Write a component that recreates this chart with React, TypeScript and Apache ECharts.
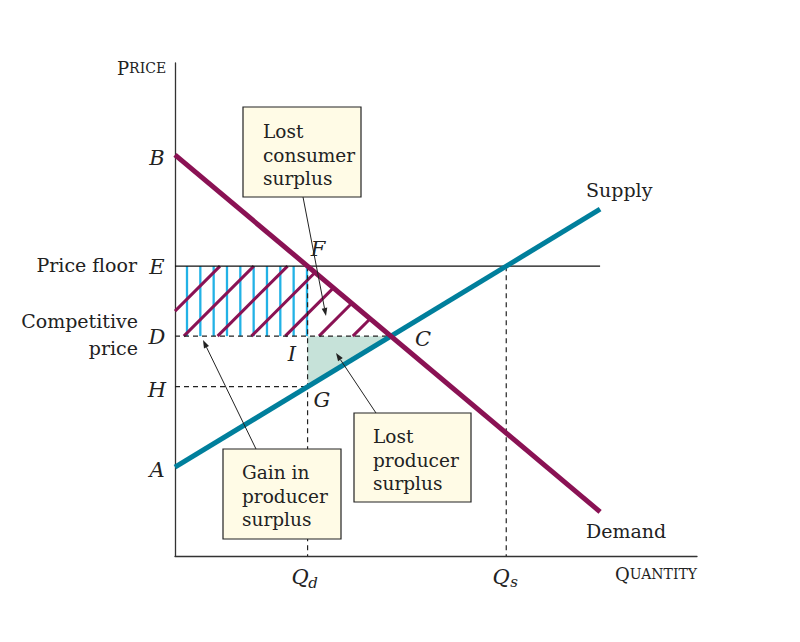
import React, { useEffect, useRef } from "react";
import * as echarts from "echarts";

// ---- data ----
const xMax = 122.8;
const yMax = 116;
const demandPts: [number, number][] = [[0, 94.4], [100, 10.4]];
const supplyPts: [number, number][] = [[0, 20.9], [100, 81.6]];
const priceFloor = 68.2;

// helpers deriving intersections from the drawn lines
const lineY = (l: [number, number][], x: number) =>
  l[0][1] + ((l[1][1] - l[0][1]) * (x - l[0][0])) / (l[1][0] - l[0][0]);
const lineX = (l: [number, number][], y: number) =>
  l[0][0] + ((l[1][0] - l[0][0]) * (y - l[0][1])) / (l[1][1] - l[0][1]);
const dSlope = (demandPts[1][1] - demandPts[0][1]) / (demandPts[1][0] - demandPts[0][0]);
const sSlope = (supplyPts[1][1] - supplyPts[0][1]) / (supplyPts[1][0] - supplyPts[0][0]);
const qC = (supplyPts[0][1] - demandPts[0][1]) / (dSlope - sSlope);
const pC = lineY(demandPts, qC);
const qD = lineX(demandPts, priceFloor);
const qS = lineX(supplyPts, priceFloor);
const pH = lineY(supplyPts, qD);

const MAGENTA = "#8a1254";
const TEAL = "#007f9c";
const CYAN = "#22b2e6";
const GREEN = "#c6e2d9";
const BOX = "#fffbe6";
const SERIF = "DejaVu Serif";

type P = [number, number];
function clipLine(p: P, d: P, poly: P[]): [P, P] | null {
  const cx = poly.reduce((s, q) => s + q[0], 0) / poly.length;
  const cy = poly.reduce((s, q) => s + q[1], 0) / poly.length;
  let tmin = -1e9, tmax = 1e9;
  for (let i = 0; i < poly.length; i++) {
    const a = poly[i], b = poly[(i + 1) % poly.length];
    let n: P = [-(b[1] - a[1]), b[0] - a[0]];
    if (n[0] * (cx - a[0]) + n[1] * (cy - a[1]) < 0) n = [-n[0], -n[1]];
    const num = n[0] * (p[0] - a[0]) + n[1] * (p[1] - a[1]);
    const den = n[0] * d[0] + n[1] * d[1];
    if (Math.abs(den) < 1e-9) {
      if (num < 0) return null;
    } else {
      const t = -num / den;
      if (den > 0) tmin = Math.max(tmin, t);
      else tmax = Math.min(tmax, t);
    }
  }
  if (tmin >= tmax) return null;
  return [
    [p[0] + tmin * d[0], p[1] + tmin * d[1]],
    [p[0] + tmax * d[0], p[1] + tmax * d[1]],
  ];
}

function arrow(x1: number, y1: number, x2: number, y2: number) {
  const dx = x2 - x1, dy = y2 - y1;
  const len = Math.hypot(dx, dy);
  const ux = dx / len, uy = dy / len;
  const hl = 8, hw = 2.8;
  const bx = x2 - ux * hl, by = y2 - uy * hl;
  return [
    { type: "line", z: 20, shape: { x1, y1, x2: bx, y2: by }, style: { stroke: "#222", lineWidth: 1 } },
    {
      type: "polygon", z: 20,
      shape: { points: [[x2, y2], [bx - uy * hw, by + ux * hw], [bx + uy * hw, by - ux * hw]] },
      style: { fill: "#222" },
    },
  ];
}

function txt(x: number, y: number, text: string, opts: any = {}) {
  return {
    type: "text", z: 30, x, y,
    style: {
      text, fill: "#222", font: `${opts.italic ? "italic " : ""}${opts.size || 19}px "${SERIF}"`,
      textAlign: opts.align || "center", textVerticalAlign: "middle",
    },
  };
}

function box(x: number, y: number, w: number, h: number, lines: string[], tx: number, ty: number[]) {
  const els: any[] = [
    { type: "rect", z: 25, shape: { x, y, width: w, height: h }, style: { fill: BOX, stroke: "#222", lineWidth: 1.2 } },
  ];
  lines.forEach((l, i) => els.push(txt(tx, ty[i], l, { align: "left", size: 18.5 })));
  return els;
}

const dashed = (pts: P[]) => ({
  type: "line", data: pts, symbol: "none", z: 4, silent: true,
  lineStyle: { color: "#222", width: 1.2, type: [5, 4] },
});

export default function App() {
  const ref = useRef<HTMLDivElement>(null);
  useEffect(() => {
    const chart = echarts.init(ref.current!, null, { renderer: "svg" });
    const option: any = {
      animation: false,
      grid: { left: 175, top: 63, width: 522, height: 493, outerBoundsMode: "none" },
      xAxis: {
        type: "value", min: 0, max: xMax,
        axisLine: { show: true, onZero: false, lineStyle: { color: "#333", width: 1.3 } },
        axisTick: { show: false }, axisLabel: { show: false }, splitLine: { show: false },
      },
      yAxis: {
        type: "value", min: 0, max: yMax,
        axisLine: { show: true, onZero: false, lineStyle: { color: "#333", width: 1.3 } },
        axisTick: { show: false }, axisLabel: { show: false }, splitLine: { show: false },
      },
      series: [
        {
          type: "custom", z: 1, silent: true, data: [[0, 0]],
          renderItem: (_p: any, api: any) => {
            const pts = [[qD, pC], [qC, pC], [qD, pH]].map((q) => api.coord(q));
            return { type: "polygon", shape: { points: pts }, style: { fill: GREEN } };
          },
        },
        {
          type: "custom", z: 2, silent: true, data: [[0, 0]],
          renderItem: (_p: any, api: any) => {
            const E = api.coord([0, priceFloor]) as P;
            const F = api.coord([qD, priceFloor]) as P;
            const C = api.coord([qC, pC]) as P;
            const D = api.coord([0, pC]) as P;
            const I = api.coord([qD, pC]) as P;
            const children: any[] = [];
            const rect: P[] = [E, F, I, D];
            for (let x = E[0] + 12; x <= F[0] + 0.6; x += 13.33) {
              const seg = clipLine([x, 0], [0, 1], rect);
              if (seg) children.push({
                type: "line", shape: { x1: seg[0][0], y1: seg[0][1], x2: seg[1][0], y2: seg[1][1] },
                style: { stroke: CYAN, lineWidth: 2.3 },
              });
            }
            const trap: P[] = [E, F, C, D];
            for (let c = D[0] + D[1] - 25; c < C[0] + C[1] + 40; c += 33.8) {
              const seg = clipLine([c, 0], [1, -1], trap);
              if (seg) children.push({
                type: "line", shape: { x1: seg[0][0], y1: seg[0][1], x2: seg[1][0], y2: seg[1][1] },
                style: { stroke: MAGENTA, lineWidth: 3 },
              });
            }
            return { type: "group", children };
          },
        },
        dashed([[0, pC], [qC, pC]]),
        dashed([[0, pH], [qD, pH]]),
        dashed([[qD, priceFloor], [qD, 0]]),
        dashed([[qS, priceFloor], [qS, 0]]),
        {
          type: "line", data: [[0, priceFloor], [100, priceFloor]], symbol: "none", z: 5, silent: true,
          lineStyle: { color: "#111", width: 1.2 },
        },
        {
          type: "line", data: supplyPts, symbol: "none", z: 6, silent: true,
          lineStyle: { color: TEAL, width: 5, cap: "butt" },
        },
        {
          type: "line", data: demandPts, symbol: "none", z: 7, silent: true,
          lineStyle: { color: MAGENTA, width: 5, cap: "butt" },
        },
      ],
      graphic: [
        {
          type: "text", z: 30, x: 117, y: 68,
          style: {
            text: "{a|P}{b|RICE}", fill: "#222", textVerticalAlign: "middle",
            rich: { a: { fontSize: 18, fontFamily: SERIF, fill: "#222" }, b: { fontSize: 14, fontFamily: SERIF, fill: "#222" } },
          },
        },
        {
          type: "text", z: 30, x: 697, y: 574,
          style: {
            text: "{a|Q}{b|UANTITY}", fill: "#222", textAlign: "right", textVerticalAlign: "middle",
            rich: { a: { fontSize: 18, fontFamily: SERIF, fill: "#222" }, b: { fontSize: 14, fontFamily: SERIF, fill: "#222" } },
          },
        },
        txt(157, 158, "B", { italic: true, size: 21 }),
        txt(157, 267, "E", { italic: true, size: 21 }),
        txt(157, 337, "D", { italic: true, size: 21 }),
        txt(157, 390, "H", { italic: true, size: 21 }),
        txt(157, 470, "A", { italic: true, size: 21 }),
        txt(318, 249, "F", { italic: true, size: 21 }),
        txt(292, 354, "I", { italic: true, size: 21 }),
        txt(322, 400, "G", { italic: true, size: 21 }),
        txt(423, 339, "C", { italic: true, size: 21 }),
        txt(300, 577, "Q", { italic: true, size: 21 }),
        txt(313, 583, "d", { italic: true, size: 15 }),
        txt(501, 577, "Q", { italic: true, size: 21 }),
        txt(514, 582, "s", { italic: true, size: 15 }),
        txt(137, 265, "Price floor", { align: "right" }),
        txt(138, 321, "Competitive", { align: "right" }),
        txt(138, 348, "price", { align: "right" }),
        txt(586, 190, "Supply", { align: "left" }),
        txt(586, 531, "Demand", { align: "left" }),
        ...box(243, 107, 118, 90, ["Lost", "consumer", "surplus"], 263, [131, 155, 178]),
        ...box(223, 449, 118, 90, ["Gain in", "producer", "surplus"], 242, [472, 496, 519]),
        ...box(354, 413, 117, 89, ["Lost", "producer", "surplus"], 373, [436, 460, 483]),
        ...arrow(303, 197, 326, 316),
        ...arrow(256, 449, 203, 340),
        ...arrow(376, 413, 336, 353),
      ],
    };
    chart.setOption(option);
    return () => chart.dispose();
  }, []);
  return (
    <div
      ref={ref}
      style={{ position: "fixed", left: 0, top: 0, width: 800, height: 642, background: "#fff" }}
    />
  );
}
